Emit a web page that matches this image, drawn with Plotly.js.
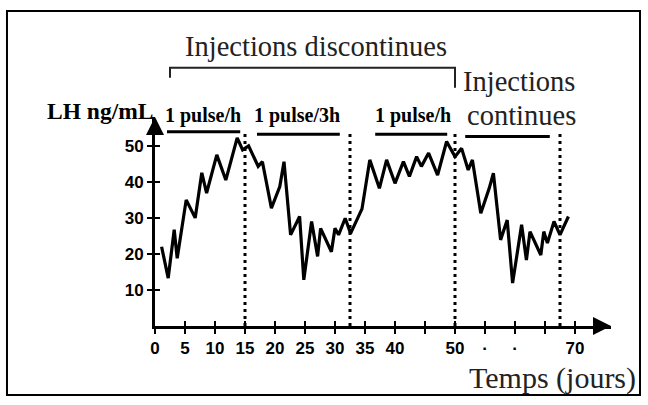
<!DOCTYPE html>
<html>
<head>
<meta charset="utf-8">
<script src="https://cdn.plot.ly/plotly-3.0.1.min.js"></script>
<style>html,body{margin:0;padding:0;background:#fff;}#chart{width:648px;height:405px;}</style>
</head>
<body>
<div id="chart"></div>
<script>
// ---- data ----
var days = [1.1, 2.2, 3.2, 3.7, 5.2, 6.7, 7.8, 8.6, 10.3, 11.8, 13.7, 14.6, 15.6,
            17.2, 17.9, 19.4, 20.8, 21.5, 22.6, 23.3, 24.1, 24.8, 26.1, 27.1, 27.6, 29.4, 30.0, 30.6, 31.7, 32.6,
            34.5, 35.8, 37.4, 38.6, 40.0, 41.4, 42.4, 43.6, 44.4, 45.6, 47.1, 48.6, 50.0, 51.1,
            52.2, 52.9, 54.3, 55.7, 56.4, 57.6, 58.7, 59.6, 61.1, 61.9, 62.5, 64.3, 64.8, 65.4, 66.5, 67.5, 68.9];
var lh   = [22, 13.3, 26.7, 18.8, 35, 30, 42.5, 36.9, 47.5, 40.5, 52.2, 48.9, 50,
            44.3, 45.6, 32.7, 38.7, 45.6, 25.3, 27.6, 30.4, 12.8, 29, 19.3, 27.1, 20.6, 27.1, 25.3, 29.9, 25.7,
            32.5, 46.1, 38.2, 46.1, 39.6, 45.6, 41.5, 47, 44.3, 48, 41.9, 51.2, 47, 49.3,
            43.3, 46.1, 31.3, 38.2, 42.4, 23.9, 29.4, 11.9, 28.1, 18.3, 26.2, 19.7, 26.2, 23, 29, 25.3, 30.4];

var xTickVals = [0, 5, 10, 15, 20, 25, 30, 35, 40, 45, 50, 55, 60, 65, 70];
var xTickText = ['0', '5', '10', '15', '20', '25', '30', '35', '40', '', '50', '·', '·', '', '70'];
var yTickVals = [10, 20, 30, 40, 50];
var yTickText = ['10', '20', '30', '40', '50'];

var phaseBounds = [15, 32.5, 50, 67.5];           // dotted lines
var pulseStart  = [2, 17, 36.7, 51.7];            // bars under regime labels
var pulseEnd    = [14.2, 30.8, 48.7, 65.8];
var pulseLevel  = [53.9, 53.2, 53.2, 52.6];
var pulseLabels = ['1 pulse/h', '1 pulse/3h', '1 pulse/h'];

var X_MAX = 76, Y_MAX = 58;

// ---- traces ----
var traces = [{
  x: days, y: lh, type: 'scatter', mode: 'lines',
  line: {color: '#000', width: 3.2}, hoverinfo: 'skip', showlegend: false
}, {
  x: [], y: [], xaxis: 'x2', yaxis: 'y2', type: 'scatter', mode: 'lines', showlegend: false, hoverinfo: 'skip'
}];

// ---- shapes ----
var shapes = [];
phaseBounds.forEach(function (b) {
  shapes.push({type: 'line', xref: 'x', yref: 'y', x0: b, x1: b, y0: 0, y1: 54,
               line: {color: '#000', width: 3, dash: '3px,4px'}});
});
pulseStart.forEach(function (s, i) {
  shapes.push({type: 'line', xref: 'x', yref: 'y', x0: s, x1: pulseEnd[i], y0: pulseLevel[i], y1: pulseLevel[i],
               line: {color: '#000', width: 3}});
});
// bracket over the discontinuous phase (paper coords)
function px(v) { return v / X_MAX; }
function py(v) { return v / Y_MAX; }
shapes.push({type: 'path', xref: 'paper', yref: 'paper',
  path: 'M ' + px(2.5) + ' ' + py(68.9) + ' L ' + px(2.5) + ' ' + py(71.7) +
        ' L ' + px(50) + ' ' + py(71.7) + ' L ' + px(50) + ' ' + py(66.1),
  line: {color: '#222', width: 2}});
// outer frame
shapes.push({type: 'rect', xref: 'paper', yref: 'paper', x0: -0.3246, x1: 1.0636, y0: -0.330, y1: 1.507,
             line: {color: '#000', width: 2}, fillcolor: 'rgba(0,0,0,0)'});

// ---- annotations ----
var serif = 'Liberation Serif, Times New Roman, serif';
var ann = [
  {text: 'Injections discontinues', xref: 'paper', yref: 'paper', x: 0.353, y: 1.336,
   xanchor: 'center', yanchor: 'middle', showarrow: false, font: {family: serif, size: 28.5, color: '#222'}},
  {text: 'Injections', xref: 'paper', yref: 'paper', x: 0.671, y: 1.169,
   xanchor: 'left', yanchor: 'middle', showarrow: false, font: {family: serif, size: 28.5, color: '#222'}},
  {text: 'continues', xref: 'paper', yref: 'paper', x: 0.680, y: 1.006,
   xanchor: 'left', yanchor: 'middle', showarrow: false, font: {family: serif, size: 28.5, color: '#222'}},
  {text: 'Temps (jours)', xref: 'paper', yref: 'paper', x: 1.059, y: -0.249,
   xanchor: 'right', yanchor: 'middle', showarrow: false, font: {family: serif, size: 30, color: '#222'}},
  {text: '<b>LH ng/mL</b>', xref: 'paper', yref: 'paper', x: 0.0, y: 1.03,
   xanchor: 'right', yanchor: 'middle', showarrow: false, font: {family: serif, size: 23.5, color: '#000'}},
  // axis arrows
  {x: X_MAX, y: 0, xref: 'x', yref: 'y', ax: -16, ay: 0, text: '', showarrow: true,
   arrowhead: 2, arrowsize: 1.2, arrowwidth: 3, arrowcolor: '#000'},
  {x: 0, y: Y_MAX, xref: 'x', yref: 'y', ax: 0, ay: 16, text: '', showarrow: true,
   arrowhead: 2, arrowsize: 1.2, arrowwidth: 3, arrowcolor: '#000'}
];
var labelX = [0.0175, 0.213, 0.478];
pulseLabels.forEach(function (t, i) {
  ann.push({text: '<b>' + t + '</b>', xref: 'paper', yref: 'paper', x: labelX[i], y: 1.006,
            xanchor: 'left', yanchor: 'middle', showarrow: false,
            font: {family: serif, size: 20, color: '#000'}});
});

var tickFont = {family: 'Liberation Sans, Arial, sans-serif', size: 17, color: '#000', weight: 'bold'};

var layout = {
  width: 648, height: 405,
  margin: {l: 155, r: 37, t: 117, b: 79, pad: 0},
  paper_bgcolor: '#fff', plot_bgcolor: '#fff',
  showlegend: false,
  xaxis: {range: [0, X_MAX], showgrid: false, zeroline: false, showline: true, linewidth: 3, linecolor: '#000',
          ticks: 'outside', ticklen: 5, tickwidth: 2, tickcolor: '#000',
          tickvals: xTickVals, ticktext: xTickText, tickfont: tickFont, fixedrange: true},
  yaxis: {range: [0, Y_MAX], showgrid: false, zeroline: false, showline: true, linewidth: 3, linecolor: '#000',
          ticks: 'outside', ticklen: 5, tickwidth: 2, tickcolor: '#000',
          tickvals: yTickVals, ticktext: yTickText, tickfont: tickFont, fixedrange: true},
  xaxis2: {range: [0, X_MAX], overlaying: 'x', anchor: 'y2', side: 'bottom', showgrid: false, zeroline: false,
           showline: false, ticks: 'inside', ticklen: 5, tickwidth: 2, tickcolor: '#000',
           tickvals: xTickVals, showticklabels: false, fixedrange: true},
  yaxis2: {range: [0, Y_MAX], overlaying: 'y', anchor: 'x2', side: 'left', showgrid: false, zeroline: false,
           showline: false, ticks: 'inside', ticklen: 5, tickwidth: 2, tickcolor: '#000',
           tickvals: yTickVals, showticklabels: false, fixedrange: true},
  shapes: shapes,
  annotations: ann
};

Plotly.newPlot('chart', traces, layout, {staticPlot: true, displayModeBar: false});
</script>
</body>
</html>
